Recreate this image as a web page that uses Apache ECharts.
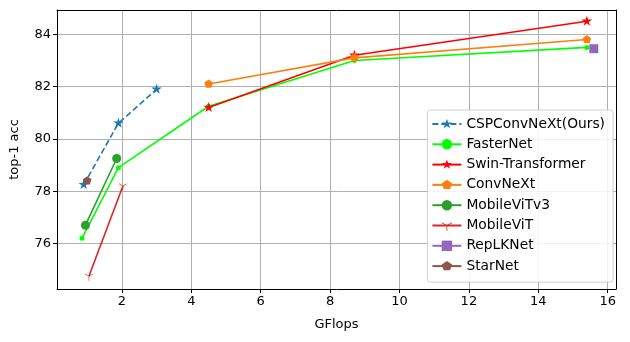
<!DOCTYPE html>
<html>
<head>
<meta charset="utf-8">
<script src="https://cdn.jsdelivr.net/npm/echarts@6/dist/echarts.min.js"></script>
<style>
  html, body { margin: 0; padding: 0; background: #fff; }
  #chart { width: 630px; height: 342px; }
</style>
</head>
<body>
<div id="chart"></div>
<script>
// data: [GFlops, top-1 acc]
const cspConvNeXt = [[0.9, 78.25], [1.9, 80.6], [3.0, 81.9]];
const fasterNet = [[0.85, 76.2], [1.9, 78.9], [4.5, 81.25], [8.7, 83.0], [15.4, 83.5]];
const swin = [[4.5, 81.2], [8.7, 83.2], [15.4, 84.5]];
const convNeXt = [[4.5, 82.1], [8.7, 83.1], [15.4, 83.8]];
const mobileViTv3 = [[0.95, 76.7], [1.85, 79.25]];
const mobileViT = [[1.05, 74.75], [2.03, 78.2]];
const repLKNet = [[15.6, 83.45]];
const starNet = [[1.0, 78.4]];

const xTicks = [2, 4, 6, 8, 10, 12, 14, 16];
const yTicks = [76, 78, 80, 82, 84];

// marker shapes (tiny extra points keep the shape centred)
const STAR = 'path://M0,-1 L0.2245,-0.309 L0.951,-0.309 L0.363,0.118 L0.588,0.809 L0,0.382 L-0.588,0.809 L-0.363,0.118 L-0.951,-0.309 L-0.2245,-0.309 Z M0,1 L0.001,1 L0,0.999 Z';
const PENTA = 'path://M0,-1 L0.951,-0.309 L0.588,0.809 L-0.588,0.809 L-0.951,-0.309 Z M0,1 L0.001,1 L0,0.999 Z';
const TRI = 'path://M-0.07,0 L0.07,0 L0.07,1 L-0.07,1 Z M0.035,0.06 L0.9,-0.44 L0.83,-0.56 L-0.035,-0.06 Z M-0.035,0.06 L-0.9,-0.44 L-0.83,-0.56 L0.035,-0.06 Z M0,-1 L0.001,-1 L0,-0.999 Z';

function line(name, data, color, symbol, size, dashed) {
  return {
    name: name,
    type: 'line',
    data: data,
    symbol: symbol,
    symbolSize: size,
    symbolKeepAspect: true,
    showSymbol: true,
    animation: false,
    itemStyle: { color: color },
    lineStyle: { color: color, width: 1.6, type: dashed ? [6, 3] : 'solid' },
    z: 3
  };
}

const chart = echarts.init(document.getElementById('chart'), null, { renderer: 'canvas' });
const font = 'DejaVu Sans';
const frame = { show: true, onZero: false, lineStyle: { color: '#000', width: 1 } };

chart.setOption({
  backgroundColor: '#fff',
  animation: false,
  textStyle: { fontFamily: font },
  grid: { left: 57, right: 14, top: 10, bottom: 53 },
  xAxis: [{
    type: 'value',
    min: 0.13, max: 16.24,
    name: 'GFlops', nameLocation: 'middle', nameGap: 29,
    nameTextStyle: { fontFamily: font, fontSize: 13, color: '#000' },
    axisLine: frame,
    axisTick: { show: true, length: 4, customValues: xTicks, lineStyle: { color: '#000' } },
    axisLabel: { customValues: xTicks, fontFamily: font, fontSize: 13, color: '#000', margin: 6 },
    splitLine: { show: true, lineStyle: { color: '#b0b0b0', width: 1 } }
  }, {
    type: 'value', position: 'top',
    min: 0.13, max: 16.24,
    axisLine: frame, axisTick: { show: false }, axisLabel: { show: false }, splitLine: { show: false }
  }],
  yAxis: [{
    type: 'value',
    min: 74.26, max: 84.93,
    name: 'top-1 acc', nameLocation: 'middle', nameGap: 36, nameRotate: 90,
    nameTextStyle: { fontFamily: font, fontSize: 13, color: '#000' },
    axisLine: frame,
    axisTick: { show: true, length: 4, customValues: yTicks, lineStyle: { color: '#000' } },
    axisLabel: { customValues: yTicks, fontFamily: font, fontSize: 13, color: '#000', margin: 6 },
    splitLine: { show: true, lineStyle: { color: '#b0b0b0', width: 1 } }
  }, {
    type: 'value', position: 'right',
    min: 74.26, max: 84.93,
    axisLine: frame, axisTick: { show: false }, axisLabel: { show: false }, splitLine: { show: false }
  }],
  legend: {
    orient: 'vertical',
    right: 17, top: 110,
    itemWidth: 29, itemHeight: 13, itemGap: 6.3,
    padding: [7, 8, 9, 4],
    backgroundColor: 'rgba(255,255,255,0.85)',
    borderColor: '#d0d0d0', borderWidth: 1, borderRadius: 3,
    textStyle: { fontFamily: font, fontSize: 13.8, color: '#000' },
    data: ['CSPConvNeXt(Ours)', 'FasterNet', 'Swin-Transformer', 'ConvNeXt',
           'MobileViTv3', 'MobileViT', 'RepLKNet', 'StarNet']
  },
  series: [
    line('CSPConvNeXt(Ours)', cspConvNeXt, '#1f77b4', STAR, 11, true),
    line('FasterNet', fasterNet, '#00ff00', 'circle', 5),
    line('Swin-Transformer', swin, '#ff0000', STAR, 11),
    line('ConvNeXt', convNeXt, '#ff7f0e', PENTA, 9),
    line('MobileViTv3', mobileViTv3, '#2ca02c', 'circle', 9),
    line('MobileViT', mobileViT, '#d62728', TRI, 9),
    line('RepLKNet', repLKNet, '#9467bd', 'rect', 9),
    line('StarNet', starNet, '#8c564b', PENTA, 9)
  ]
});
</script>
</body>
</html>
